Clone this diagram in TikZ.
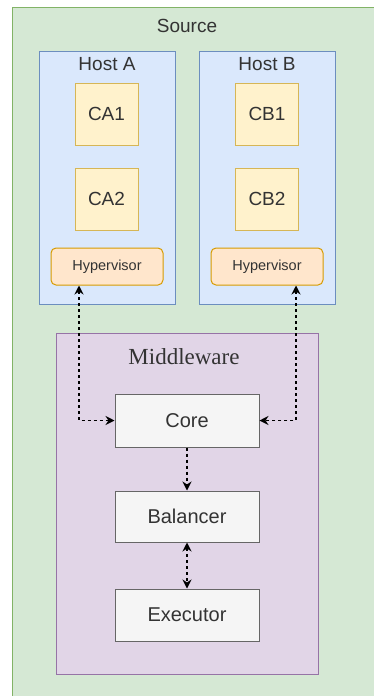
\documentclass[tikz,border=0pt]{standalone}
\usepackage{fontspec}
\setmainfont{Liberation Sans}
\newfontfamily\serifmw{Liberation Serif}
\usetikzlibrary{arrows.meta}
\definecolor{grfill}{HTML}{D5E8D4}\definecolor{grline}{HTML}{82B366}
\definecolor{blfill}{HTML}{DAE8FC}\definecolor{blline}{HTML}{6C8EBF}
\definecolor{yefill}{HTML}{FFF2CC}\definecolor{yeline}{HTML}{D6B656}
\definecolor{orfill}{HTML}{FFE6CC}\definecolor{orline}{HTML}{D79B00}
\definecolor{pufill}{HTML}{E1D5E7}\definecolor{puline}{HTML}{9673A6}
\definecolor{gyfill}{HTML}{F5F5F5}\definecolor{gyline}{HTML}{666666}
\definecolor{txt}{HTML}{333333}
\tikzset{
  box/.style={draw, line width=1pt, inner sep=0pt, text=txt},
  hostbox/.style={box, fill=blfill, draw=blline, minimum width=136pt, minimum height=253pt},
  contbox/.style={box, fill=yefill, draw=yeline, minimum width=63pt, minimum height=62pt, font=\fontsize{19}{22}\selectfont},
  hypbox/.style={box, fill=orfill, draw=orline, rounded corners=5pt, minimum width=112pt, minimum height=37pt, font=\fontsize{14.5}{17}\selectfont},
  mwbox/.style={box, fill=gyfill, draw=gyline, minimum width=144pt, font=\fontsize{20}{24}\selectfont},
  title/.style={text=txt, inner sep=0pt, font=\fontsize{19}{22}\selectfont},
  conn/.style={line width=1.3pt, dash pattern=on 3pt off 3pt, -{Stealth[length=9pt,width=9pt]}},
  conn2/.style={conn, {Stealth[length=9pt,width=9pt]}-{Stealth[length=9pt,width=9pt]}}
}
\begin{document}
\begin{tikzpicture}[x=1pt,y=-1pt]
\useasboundingbox (0,0) rectangle (374,696);
\clip (0,0) rectangle (374,696);
\draw[fill=grfill, draw=grline, line width=1pt] (12,7) rectangle (390,710);
\node[title] (src) at (187,26) {Source};
\node[hostbox] (hostA) at (107,177.5) {};
\node[hostbox] (hostB) at (267,177.5) {};
\node[title] (ta) at (107,64) {Host A};
\node[title] (tb) at (267,64) {Host B};
\node[contbox] (ca1) at (106.5,114) {CA1};
\node[contbox] (ca2) at (106.5,199) {CA2};
\node[contbox] (cb1) at (267,114) {CB1};
\node[contbox] (cb2) at (267,199) {CB2};
\node[hypbox] (hypA) at (107,266.5) {Hypervisor};
\node[hypbox] (hypB) at (267,266.5) {Hypervisor};
\node[box, fill=pufill, draw=puline, minimum width=262pt, minimum height=341pt] (mw) at (187,503.5) {};
\node[text=txt, inner sep=0pt, font=\serifmw\fontsize{23}{26}\selectfont] (mwt) at (184,357) {Middleware};
\node[mwbox, minimum height=53pt] (core) at (187,420.5) {Core};
\node[mwbox, minimum height=51pt] (bal) at (187,516.5) {Balancer};
\node[mwbox, minimum height=52pt] (exe) at (187,615) {Executor};
\coordinate (ka) at (79,420.5);
\coordinate (kb) at (296,420.5);
\draw[conn2] (hypA.south -| ka) -- (ka) -- (core.west);
\draw[conn2] (hypB.south -| kb) -- (kb) -- (core.east);
\draw[conn] (core) -- (bal);
\draw[conn2] (bal) -- (exe);
\end{tikzpicture}
\end{document}
